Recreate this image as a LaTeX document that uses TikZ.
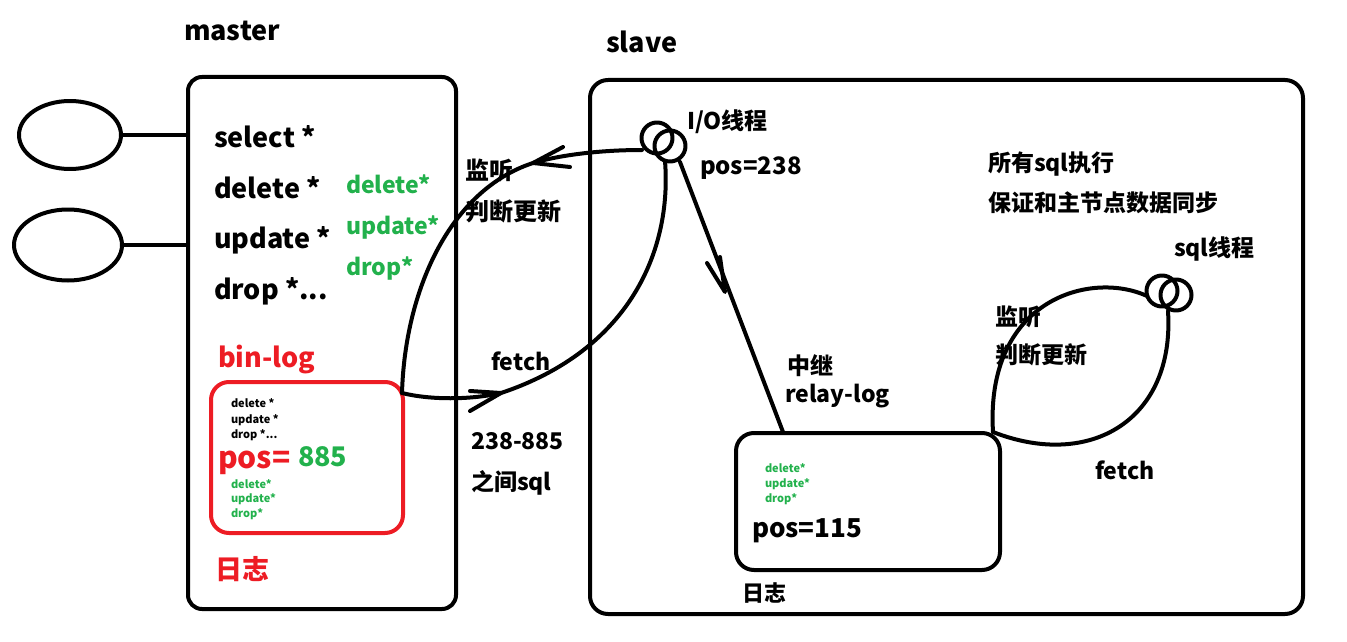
\documentclass[tikz,border=0pt]{standalone}
\usepackage{fontspec}
\setmainfont{Noto Sans CJK SC}
\usetikzlibrary{shapes.geometric}
\definecolor{pgreen}{HTML}{22B14C}
\definecolor{pred}{HTML}{ED1C24}
\begin{document}
\begin{tikzpicture}[x=1pt,y=-1pt,line width=4pt,line cap=round,line join=round,
  lbl/.style={anchor=west,inner sep=0pt,text height=0.72em,text depth=0.2em,yshift={-0.3*#1},font=\fontsize{#1}{#1}\selectfont\bfseries},
  box/.style={draw,rounded corners=#1,inner sep=0pt,minimum width=0pt,minimum height=0pt},
  client/.style={draw,ellipse,inner sep=0pt},
  thread/.style={draw,circle,inner sep=0pt,minimum size=31pt}]
\useasboundingbox (0,0) rectangle (1347,642);
% boxes
\node[box=14pt,minimum width=268pt,minimum height=532pt] (master) at (322,343) {};
\node[box=18pt,minimum width=713pt,minimum height=534pt] (slave) at (946.5,347) {};
\node[box=18pt,draw=pred,minimum width=192pt,minimum height=151pt] (binlog) at (307,457.5) {};
\node[box=18pt,minimum width=264pt,minimum height=137pt] (relay) at (868,501.5) {};
% clients
\node[client,minimum width=102pt,minimum height=68pt] (c1) at (70,135) {};
\node[client,minimum width=108pt,minimum height=71pt] (c2) at (68,245) {};
\draw (c1.east) -- (c1.east -| master.west);
\draw (c2.east) -- (c2.east -| master.west);
% threads
\node[thread] (io1) at (657,138) {};
\node[thread] (io2) at (670,146) {};
\node[thread] (sq1) at (1162,291) {};
\node[thread] (sq2) at (1176,295) {};
% coordinates
\coordinate (B) at (402,393);
\coordinate (T1) at (533,163);
\coordinate (T2) at (501,393);
\coordinate (ioL) at (642,150);
\coordinate (ioB) at (665,161);
\coordinate (ioR) at (680,162);
\coordinate (T3) at (725,292);
\coordinate (rl) at (783,432);
\coordinate (J) at (993,432);
\coordinate (sqL) at (1147,296);
\coordinate (sqB) at (1168,311);
% left loop
\draw (ioL) .. controls (600,150) and (560,155) .. (T1) .. controls (450,190) and (405,290) .. (B);
\draw (ioB) .. controls (672,250) and (630,350) .. (T2) .. controls (470,400) and (430,400) .. (B);
% arrowheads
\draw (563,147) -- (T1) -- (570,167);
\draw (470,391) -- (T2) -- (470,411);
% relay line
\draw (ioR) -- (rl);
\draw (707,263) -- (T3) -- (720,257);
% sql loop
\draw (sqL) .. controls (1090,270) and (985,300) .. (J);
\draw (J) .. controls (1090,470) and (1175,420) .. (sqB);
% texts master
\node[lbl=27] (tmaster) at (182,30) {master};
\node[lbl=27] (tsel) at (212,137) {select *};
\node[lbl=27] (tdel) at (212,188) {delete *};
\node[lbl=27] (tupd) at (212,238) {update *};
\node[lbl=27] (tdrop) at (212,289) {drop *...};
\node[lbl=23,text=pgreen] (g1) at (344,184) {delete*};
\node[lbl=23,text=pgreen] (g2) at (344,225) {update*};
\node[lbl=23,text=pgreen] (g3) at (344,266) {drop*};
\node[lbl=27,text=pred] (tbin) at (216,357) {bin-log};
\node[lbl=11] (s1) at (229,402) {delete *};
\node[lbl=11] (s2) at (229,418) {update *};
\node[lbl=11] (s3) at (229,433) {drop *...};
\node[lbl=30,text=pred] (tpos) at (216,457) {pos=};
\node[lbl=27,text=pgreen] (t885) at (296,456) {885};
\node[lbl=11,text=pgreen] (s4) at (229,483) {delete*};
\node[lbl=11,text=pgreen] (s5) at (229,497) {update*};
\node[lbl=11,text=pgreen] (s6) at (229,512) {drop*};
\node[lbl=27,text=pred] (tlog1) at (213,569) {日志};
% middle
\node[lbl=24] (tl1) at (463,170) {监听};
\node[lbl=24] (tl2) at (463,211) {判断更新};
\node[lbl=23] (tf1) at (489,361) {fetch};
\node[lbl=23] (tr1) at (469,440) {238-885};
\node[lbl=23] (tr2) at (469,481) {之间sql};
% slave
\node[lbl=27] (tslave) at (604,42) {slave};
\node[lbl=23] (tio) at (685,120) {I/O线程};
\node[lbl=24] (tp238) at (698,165) {pos=238};
\node[lbl=23] (tall) at (986,162) {所有sql执行};
\node[lbl=23] (tsync) at (986,202) {保证和主节点数据同步};
\node[lbl=23] (tsql) at (1172,247) {sql线程};
\node[lbl=23] (tl3) at (993,316) {监听};
\node[lbl=23] (tl4) at (993,354) {判断更新};
\node[lbl=23] (tzj) at (785,365) {中继};
\node[lbl=23] (trl) at (783,393) {relay-log};
\node[lbl=23] (tf2) at (1093,470) {fetch};
\node[lbl=11,text=pgreen] (s7) at (763,467) {delete*};
\node[lbl=11,text=pgreen] (s8) at (763,482) {update*};
\node[lbl=11,text=pgreen] (s9) at (763,497) {drop*};
\node[lbl=26] (tp115) at (750,527) {pos=115};
\node[lbl=22] (tlog2) at (740,592) {日志};
\end{tikzpicture}
\end{document}
